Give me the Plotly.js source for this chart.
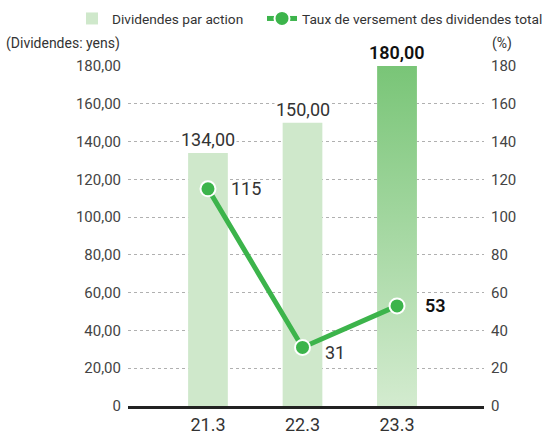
<!DOCTYPE html>
<html>
<head>
<meta charset="utf-8">
<script src="https://cdn.plot.ly/plotly-3.0.1.min.js"></script>
<style>html,body{margin:0;padding:0;background:#fff;}#chart{width:544px;height:437px;}</style>
</head>
<body>
<div id="chart"></div>
<script>
const categories = ['21.3', '22.3', '23.3'];
const dividends = [134, 150, 180];
const payoutRatio = [115, 31, 53];
const dividendLabels = ['134,00', '150,00', '180,00'];
const ratioLabels = ['115', '31', '53'];
const leftTicks = [0, 20, 40, 60, 80, 100, 120, 140, 160, 180];
const rightTicks = [0, 20, 40, 60, 80, 100, 120, 140, 160, 180];

const FONT = 'Roboto, "Noto Sans", sans-serif';
const barColor = '#cfe8cb';
const lineColor = '#3cb44b';
const barWidth = 0.42;
const idx = categories.map((c, i) => i);

const traces = [];
traces.push({
  type: 'bar', name: 'Dividendes par action', legend: 'legend',
  x: idx, y: dividends, width: barWidth,
  marker: {color: barColor, line: {width: 0}},
  xaxis: 'x', yaxis: 'y', hoverinfo: 'skip'
});
// gradient overlay for the latest bar (built from the same data)
const last = idx.length - 1;
const gx0 = idx[last] - barWidth / 2, gx1 = idx[last] + barWidth / 2;
traces.push({
  type: 'scatter', mode: 'lines', showlegend: false, hoverinfo: 'skip',
  x: [gx0, gx1, gx1, gx0, gx0], y: [0, 0, dividends[last], dividends[last], 0],
  fill: 'toself', line: {width: 0, color: 'rgba(0,0,0,0)'},
  fillgradient: {type: 'vertical', colorscale: [[0, '#d3ebcf'], [1, '#79c577']]},
  xaxis: 'x', yaxis: 'y'
});
traces.push({
  type: 'scatter', mode: 'lines+markers', name: 'Taux de versement des dividendes total', legend: 'legend2',
  x: idx, y: payoutRatio,
  line: {color: lineColor, width: 5},
  marker: {color: lineColor, size: 15, line: {color: '#fff', width: 2}},
  xaxis: 'x', yaxis: 'y2', hoverinfo: 'skip'
});

const fmt = v => v === 0 ? '0' : v.toFixed(2).replace('.', ',');

const annotations = [];
dividends.forEach((v, i) => {
  annotations.push({
    x: idx[i], y: v, xref: 'x', yref: 'y', text: dividendLabels[i],
    showarrow: false, yanchor: 'bottom', yshift: 1, bgcolor: '#fff', borderpad: 1,
    font: {family: FONT, size: 18, color: i === last ? '#111' : '#333', weight: i === last ? 600 : 'normal'}
  });
});
const ratioOffsets = [[21, 0], [20, -5], [26, 0]];
payoutRatio.forEach((v, i) => {
  annotations.push({
    x: idx[i], y: v, xref: 'x', yref: 'y2', text: ratioLabels[i],
    showarrow: false, xanchor: 'left', xshift: ratioOffsets[i][0], yshift: ratioOffsets[i][1],
    font: {family: FONT, size: 18, color: i === last ? '#111' : '#333', weight: i === last ? 600 : 'normal'}
  });
});
annotations.push({
  x: 0, y: 1, xref: 'paper', yref: 'paper', xanchor: 'right', yanchor: 'bottom', xshift: -6, yshift: 12,
  text: '(Dividendes: yens)', showarrow: false, font: {family: FONT, size: 14, color: '#333'}
});
annotations.push({
  x: 1, y: 1, xref: 'paper', yref: 'paper', xanchor: 'left', yanchor: 'bottom', xshift: 6, yshift: 12,
  text: '(%)', showarrow: false, font: {family: FONT, size: 14, color: '#333'}
});

const gridStyle = {showgrid: true, gridcolor: '#b0b0b0', gridwidth: 1, griddash: '3px,3px'};
const legendBase = {orientation: 'h', xref: 'container', yref: 'container', xanchor: 'left', yanchor: 'top',
  y: 0.993, font: {family: FONT, size: 13.7, color: '#333'}, itemwidth: 30, bgcolor: 'rgba(0,0,0,0)'};

const layout = {
  width: 544, height: 437,
  margin: {l: 128, r: 60, t: 66, b: 31, autoexpand: false},
  paper_bgcolor: '#fff', plot_bgcolor: '#fff',
  font: {family: FONT, color: '#444'},
  showlegend: true,
  legend: Object.assign({}, legendBase, {x: 72 / 544}),
  legend2: Object.assign({}, legendBase, {x: 262 / 544}),
  xaxis: {
    range: [-0.846, 2.92], tickvals: idx, ticktext: categories,
    showgrid: false, zeroline: false, showline: true, linecolor: '#222', linewidth: 3,
    ticks: '', tickfont: {family: FONT, size: 18, color: '#333'}, fixedrange: true
  },
  yaxis: Object.assign({
    range: [0, 180], tickvals: leftTicks, ticktext: leftTicks.map(fmt),
    zeroline: false, showline: false, ticks: '', ticklabelstandoff: 6,
    tickfont: {family: FONT, size: 15, color: '#444'}
  }, gridStyle),
  yaxis2: {
    range: [0, 180], tickvals: rightTicks, ticktext: rightTicks.map(String),
    overlaying: 'y', side: 'right', showgrid: false, zeroline: false, showline: false,
    ticks: '', ticklabelstandoff: 6, tickfont: {family: FONT, size: 15, color: '#444'}
  },
  annotations: annotations
};

Plotly.newPlot('chart', traces, layout, {staticPlot: true, displayModeBar: false});
</script>
</body>
</html>
